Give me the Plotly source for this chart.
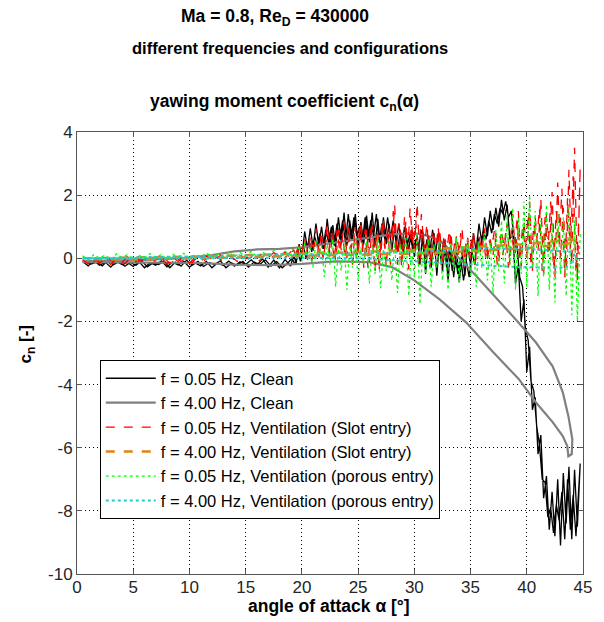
import plotly.graph_objects as go

# ---------------- data ----------------
X_TICKS = [0, 5, 10, 15, 20, 25, 30, 35, 40, 45]
Y_TICKS = [-10, -8, -6, -4, -2, 0, 2, 4]

# angle grid of the slow (0.05 Hz) runs, pitch-up pass
ALPHA_UP = [0.5, 1.0, 1.5, 2.0, 2.5, 3.0, 3.5, 4.0, 4.5, 5.0,
            5.5, 6.0, 6.5, 7.0, 7.5, 8.0, 8.5, 9.0, 9.5, 10.0,
            10.5, 11.0, 11.5, 12.0, 12.5, 13.0, 13.5, 14.0, 14.5, 15.0,
            15.5, 16.0, 16.5, 17.0, 17.5, 18.0, 18.5, 19.0,
            19.25, 19.5, 19.75,
            20.0, 20.25, 20.5, 20.75, 21.0, 21.25, 21.5, 21.75,
            22.0, 22.25, 22.5, 22.75, 23.0, 23.25, 23.5, 23.75,
            24.0, 24.25, 24.5, 24.75, 25.0, 25.25, 25.5, 25.75,
            26.0, 26.25, 26.5, 26.75, 27.0, 27.25, 27.5, 27.75,
            28.0, 28.25, 28.5, 28.75, 29.0, 29.25, 29.5, 29.75,
            30.0, 30.25, 30.5, 30.75, 31.0, 31.25, 31.5, 31.75,
            32.0, 32.25, 32.5, 32.75, 33.0, 33.25, 33.5, 33.75,
            34.0, 34.25, 34.5, 34.75, 35.0, 35.25, 35.5, 35.75,
            36.0, 36.25, 36.5, 36.75, 37.0, 37.25, 37.5, 37.75,
            38.0, 38.25, 38.5, 38.75, 39.0, 39.25, 39.5, 39.75,
            40.0, 40.25, 40.5, 40.75, 41.0, 41.25, 41.5, 41.75,
            42.0, 42.25, 42.5, 42.75, 43.0, 43.25, 43.5, 43.75,
            44.0, 44.25, 44.5, 44.75]

# pitch-down pass
ALPHA_DOWN = [44.625, 44.375, 44.125,
              43.875, 43.625, 43.375, 43.125, 42.875, 42.625, 42.375, 42.125,
              41.875, 41.625, 41.375, 41.125, 40.875, 40.625, 40.375, 40.125,
              39.875, 39.625, 39.375, 39.125, 38.875, 38.625, 38.375, 38.125,
              37.875, 37.625, 37.375, 37.125, 36.875, 36.625, 36.375, 36.125,
              35.875, 35.625, 35.375, 35.125, 34.875, 34.625, 34.375, 34.125,
              33.875, 33.625, 33.375, 33.125, 32.875, 32.625, 32.375, 32.125,
              31.875, 31.625, 31.375, 31.125, 30.875, 30.625, 30.375, 30.125,
              29.875, 29.625, 29.375, 29.125, 28.875, 28.625, 28.375, 28.125,
              27.875, 27.625, 27.375, 27.125, 26.875, 26.625, 26.375, 26.125,
              25.875, 25.625, 25.375, 25.125, 24.875, 24.625, 24.375, 24.125,
              23.875, 23.625, 23.375, 23.125, 22.875, 22.625, 22.375, 22.125,
              21.875, 21.625, 21.375, 21.125, 20.875, 20.625, 20.375, 20.125,
              19.875, 19.625, 19.375, 19.125,
              18.75, 18.25, 17.75, 17.25, 16.75, 16.25, 15.75, 15.25, 14.75, 14.25,
              13.75, 13.25, 12.75, 12.25, 11.75, 11.25, 10.75, 10.25, 9.75, 9.25,
              8.75, 8.25, 7.75, 7.25, 6.75, 6.25, 5.75, 5.25, 4.75, 4.25,
              3.75, 3.25, 2.75, 2.25, 1.75, 1.25, 0.75]

CN_CLEAN_005_UP = [-0.10, -0.24, -0.08, -0.22, -0.12, -0.28, -0.09, -0.20, -0.13, -0.26,
                   -0.10, -0.30, -0.14, -0.22, -0.08, -0.27, -0.12, -0.21, -0.10, -0.28,
                   -0.15, -0.24, -0.10, -0.30, -0.14, -0.23, -0.09, -0.25, -0.11, -0.20,
                   -0.05, -0.22, -0.02, -0.28, -0.06, -0.30, -0.04, -0.25,
                   0.10, -0.15, 0.45,
                   0.05, 0.85, 0.30, 0.95, 0.35, 1.10, 0.40, 1.00,
                   0.30, 1.25, 0.45, 1.05, 0.35, 1.30, 0.50, 1.45,
                   0.40, 1.20, 0.55, 1.40, 0.35, 1.15, 0.45, 1.35,
                   0.50, 1.45, 0.40, 1.25, 0.30, 1.30, 0.45, 1.10,
                   0.25, 0.95, 0.20, 0.85, 0.10, 0.80, 0.25, 0.90,
                   0.05, 0.75, -0.20, 0.85, -0.50, 0.70, -0.30, 0.80,
                   -0.55, 0.60, -0.40, 0.50, -0.70, 0.40, -0.60, 0.30,
                   -0.75, 0.20, -0.55, 0.50, -0.30, 0.80, 0.20, 1.10,
                   0.50, 1.30, 0.70, 1.50, 0.90, 1.60, 1.00, 1.85,
                   1.20, 1.70, 0.60, 0.90, -0.80, -0.20, -2.00, -1.30,
                   -3.60, -2.80, -4.80, -4.40, -6.20, -5.60, -7.60, -6.90,
                   -8.60, -7.40, -8.80, -7.00, -9.10, -6.80, -8.40, -6.60,
                   -8.90, -6.70, -8.50, -6.50]

CN_CLEAN_005_DOWN = [-7.2, -8.8, -7.5,
                     -8.6, -7.0, -8.9, -7.4, -8.3, -7.8, -8.7, -7.9,
                     -8.2, -7.1, -7.0, -5.9, -5.3, -4.2, -3.9, -2.6,
                     -2.2, -0.9, -0.6, 0.4, 0.6, 1.5, 1.3, 1.8,
                     1.4, 1.6, 1.1, 1.4, 0.8, 1.2, 0.6, 0.9,
                     0.3, 0.7, -0.2, 0.2, -0.6, -0.1, -0.7, 0.0,
                     -0.5, 0.1, -0.4, 0.3, -0.3, 0.6, -0.1, 0.8,
                     0.1, 0.9, 0.2, 0.6, 0.1, 0.9, 0.3, 0.6,
                     0.2, 0.8, 0.4, 1.0, 0.3, 1.1, 0.5, 1.2,
                     0.6, 1.3, 0.6, 1.1, 0.5, 1.4, 0.7, 1.2,
                     0.6, 1.3, 0.5, 1.0, 0.7, 1.3, 0.6, 1.4,
                     0.5, 1.2, 0.6, 1.1, 0.4, 1.0, 0.5, 0.9,
                     0.3, 0.8, 0.4, 0.7, 0.2, 0.6, 0.0, 0.4,
                     -0.1, 0.2, -0.2, 0.0,
                     -0.15, -0.30, -0.10, -0.25, -0.05, -0.20, -0.12, -0.28, -0.10, -0.22,
                     -0.15, -0.30, -0.08, -0.20, -0.14, -0.26, -0.10, -0.22, -0.06, -0.25,
                     -0.12, -0.30, -0.10, -0.20, -0.15, -0.27, -0.08, -0.22, -0.13, -0.25,
                     -0.10, -0.20, -0.06, -0.24, -0.12, -0.18, -0.08]

CN_SLOT_005_UP = [-0.05, -0.18, 0.02, -0.15, -0.02, -0.20, 0.00, -0.12, 0.05, -0.16,
                  -0.02, -0.14, 0.04, -0.12, 0.00, -0.18, 0.03, -0.10, 0.06, -0.15,
                  0.02, -0.10, 0.08, -0.08, 0.05, -0.12, 0.10, -0.05, 0.12, -0.02,
                  0.14, 0.00, 0.15, 0.02, 0.18, 0.05, 0.20, 0.00,
                  0.30, 0.00, 0.45,
                  0.10, 0.60, -0.05, 0.80, 0.15, 0.95, 0.00, 0.70,
                  0.20, 1.10, 0.05, 0.85, -0.10, 0.90, 0.25, 1.15,
                  0.00, 0.75, -0.20, 1.00, 0.10, 1.20, -0.30, 0.90,
                  -0.10, 1.05, -0.45, 0.80, 0.00, 1.30, -0.30, 1.00,
                  0.20, 1.70, -0.20, 0.90, 0.10, 1.20, -0.35, 1.10,
                  0.30, 1.75, -0.10, 0.90, 0.00, 0.80, -0.20, 0.70,
                  0.10, 0.95, -0.25, 0.60, 0.05, 0.85, -0.30, 0.75,
                  0.15, 0.90, -0.15, 0.65, 0.00, 0.85, -0.10, 0.70,
                  0.20, 0.95, -0.05, 0.60, 0.10, 0.80, -0.15, 0.90,
                  0.30, 1.10, -0.20, 1.40, 0.10, 1.50, -0.30, 1.20,
                  0.00, 1.80, -0.40, 1.30, 0.20, 1.90, -0.50, 1.40,
                  0.10, 2.10, -0.60, 2.40, 0.00, 1.60, -0.40, 2.80,
                  -0.20, 3.50, -0.70, 2.90]

CN_SLOT_005_DOWN = [1.2, -0.5, 2.6,
                    0.3, 1.9, -0.6, 2.2, 0.4, 1.5, -0.3, 1.8,
                    0.2, 1.3, -0.4, 1.6, 0.5, 1.1, -0.2, 1.4,
                    0.3, 1.0, -0.1, 1.2, 0.2, 0.9, -0.3, 0.8,
                    0.1, 0.7, -0.2, 0.9, 0.3, 0.6, -0.1, 0.8,
                    0.2, 0.5, -0.2, 0.7, 0.1, 0.6, -0.3, 0.8,
                    0.0, 0.6, -0.1, 0.9, 0.2, 0.7, -0.2, 1.0,
                    0.1, 0.8, -0.3, 1.1, 0.3, 1.4, -0.2, 1.2,
                    0.4, 1.6, 0.0, 1.3, -0.3, 1.1, 0.2, 1.5,
                    -0.2, 0.9, 0.3, 1.2, -0.4, 0.8, 0.1, 1.1,
                    -0.3, 0.9, 0.2, 1.0, -0.1, 0.8, 0.3, 1.1,
                    0.0, 0.7, 0.2, 0.9, -0.1, 0.8, 0.2, 0.6,
                    0.0, 0.7, 0.1, 0.5, -0.1, 0.6, 0.1, 0.4,
                    0.0, 0.3, 0.1, 0.25,
                    0.10, -0.05, 0.15, 0.00, 0.12, -0.08, 0.10, -0.02, 0.08, -0.10,
                    0.05, -0.05, 0.10, -0.12, 0.04, -0.08, 0.06, -0.14, 0.02, -0.10,
                    0.05, -0.15, 0.00, -0.12, 0.03, -0.16, -0.02, -0.10, 0.02, -0.18,
                    -0.04, -0.12, 0.00, -0.20, -0.05, -0.15, -0.08]

CN_POROUS_005_UP = [0.08, -0.05, 0.12, 0.00, 0.10, -0.06, 0.14, 0.02, 0.12, -0.04,
                    0.10, 0.00, 0.15, 0.02, 0.12, -0.03, 0.13, 0.03, 0.16, 0.00,
                    0.12, 0.04, 0.18, 0.02, 0.15, 0.05, 0.20, 0.04, 0.18, 0.06,
                    0.22, 0.05, 0.20, 0.08, 0.25, 0.05, 0.22, 0.10,
                    0.30, 0.05, 0.40,
                    -0.10, 0.50, 0.00, 0.35, -0.30, 0.55, 0.10, 0.40,
                    -0.60, 0.45, -0.20, 0.60, -0.90, 0.30, -0.40, 0.50,
                    -1.00, 0.40, -0.30, 0.65, -0.70, 0.35, -0.20, 0.55,
                    -0.80, 0.40, -0.50, 0.70, -0.95, 0.30, -0.40, 0.60,
                    -0.70, 0.50, -1.10, 0.45, -0.30, 0.70, -1.20, 0.40,
                    -0.60, 0.80, -1.45, 0.35, -0.50, 0.60, -0.90, 0.45,
                    -0.30, 0.55, -0.70, 0.30, -1.00, 0.50, -0.40, 0.65,
                    -0.80, 0.40, -0.20, 0.60, -0.60, 0.45, -0.90, 0.55,
                    -0.30, 0.80, -0.70, 0.50, -1.10, 0.90, -0.40, 1.20,
                    -0.80, 1.40, -0.20, 1.60, -1.00, 1.30, -0.50, 1.80,
                    -0.90, 2.00, -0.30, 1.50, -1.20, 1.20, -0.60, 1.70,
                    -1.00, 1.10, -1.40, 1.50, -0.50, 1.30, -1.20, 1.60,
                    -1.80, 1.20, -2.00, 0.80]

# fast (4.00 Hz) runs: closed hysteresis loops
ALPHA_CLEAN_400 = [0.5, 3.0, 6.0, 10.0, 12.0, 14.0, 16.0, 18.0, 20.0, 22.0, 24.0, 26.0,
                   28.0, 30.0, 31.1, 32.2, 34.0, 35.5, 37.3, 39.0, 40.8, 42.3, 43.2,
                   43.7, 44.05, 44.0, 43.7, 43.6, 43.2, 42.3, 40.8, 39.3, 37.0, 34.6,
                   32.25, 30.0, 28.0, 26.0, 23.0, 20.0, 17.0, 14.0, 11.0, 8.0, 5.0, 2.0, 0.5]
CN_CLEAN_400 = [-0.10, -0.08, -0.05, 0.02, 0.10, 0.22, 0.28, 0.30, 0.35, 0.45, 0.55, 0.66,
                0.76, 0.80, 0.72, 0.58, 0.00, -0.56, -1.25, -1.93, -2.66, -3.42, -4.24,
                -5.00, -5.73, -6.20, -6.27, -5.95, -5.63, -5.19, -4.56, -3.83, -2.97, -2.03,
                -1.30, -0.70, -0.28, -0.12, -0.10, -0.18, -0.22, -0.20, -0.15, -0.14, -0.15, -0.14, -0.12]

ALPHA_SLOT_400 = [0.5, 5.0, 10.0, 15.0, 20.0, 25.0, 30.0, 35.0, 40.0, 44.0,
                  44.5, 40.0, 35.0, 30.0, 25.0, 20.0, 15.0, 10.0, 5.0, 0.5]
CN_SLOT_400 = [0.00, 0.02, 0.05, 0.10, 0.14, 0.20, 0.26, 0.35, 0.45, 0.60,
               0.50, 0.32, 0.22, 0.15, 0.12, 0.08, 0.03, 0.00, -0.04, -0.03]

ALPHA_POROUS_400 = [0.5, 10.0, 20.0, 25.0, 30.0, 35.0, 40.0, 44.0,
                    44.5, 43.4, 39.3, 35.0, 30.0, 25.0, 20.0, 15.0, 10.0, 0.5]
CN_POROUS_400 = [0.00, 0.05, 0.10, 0.15, 0.20, 0.30, 0.30, 0.20,
                 0.00, -0.30, -0.28, -0.20, -0.10, 0.00, 0.02, 0.00, 0.00, 0.00]

NAMES = ["f = 0.05 Hz, Clean",
         "f = 4.00 Hz, Clean",
         "f = 0.05 Hz, Ventilation (Slot entry)",
         "f = 4.00 Hz, Ventilation (Slot entry)",
         "f = 0.05 Hz, Ventilation (porous entry)",
         "f = 4.00 Hz, Ventilation (porous entry)"]

for a, b in [(ALPHA_UP, CN_CLEAN_005_UP), (ALPHA_UP, CN_SLOT_005_UP), (ALPHA_UP, CN_POROUS_005_UP),
             (ALPHA_DOWN, CN_CLEAN_005_DOWN), (ALPHA_DOWN, CN_SLOT_005_DOWN),
             (ALPHA_CLEAN_400, CN_CLEAN_400), (ALPHA_SLOT_400, CN_SLOT_400),
             (ALPHA_POROUS_400, CN_POROUS_400)]:
    assert len(a) == len(b), (len(a), len(b))

# ---------------- figure ----------------
FONT = "Liberation Sans, Arial, Helvetica, sans-serif"
fig = go.Figure()
fig.add_trace(go.Scatter(x=ALPHA_UP + ALPHA_DOWN, y=CN_CLEAN_005_UP + CN_CLEAN_005_DOWN,
                         mode="lines", name=NAMES[0], line=dict(color="black", width=1.3)))
fig.add_trace(go.Scatter(x=ALPHA_CLEAN_400, y=CN_CLEAN_400, mode="lines", name=NAMES[1],
                         line=dict(color="#808080", width=2.2)))
fig.add_trace(go.Scatter(x=ALPHA_UP + ALPHA_DOWN, y=CN_SLOT_005_UP + CN_SLOT_005_DOWN,
                         mode="lines", name=NAMES[2],
                         line=dict(color="#ff0000", width=1.3, dash="dash")))
fig.add_trace(go.Scatter(x=ALPHA_SLOT_400, y=CN_SLOT_400, mode="lines", name=NAMES[3],
                         line=dict(color="#d9861a", width=2.5, dash="dash")))
fig.add_trace(go.Scatter(x=ALPHA_UP, y=CN_POROUS_005_UP, mode="lines", name=NAMES[4],
                         line=dict(color="#00ff00", width=1.2, dash="dot")))
fig.add_trace(go.Scatter(x=ALPHA_POROUS_400, y=CN_POROUS_400, mode="lines", name=NAMES[5],
                         line=dict(color="#22cccc", width=2, dash="dot")))

L, R, T, B = 77, 16, 132, 48
W, H = 604, 622
pw, ph = W - L - R, H - T - B

def px_x(p):
    return (p - L) / pw

def px_y(p):
    return (H - B - p) / ph

axis_common = dict(showline=True, linecolor="#555555", linewidth=1, mirror="ticks",
                   ticks="inside", ticklen=5, tickcolor="#555555",
                   showgrid=True, gridcolor="black", gridwidth=1, griddash="1px,3px",
                   zeroline=False, tickfont=dict(family=FONT, size=17, color="#262626"))

fig.update_xaxes(range=[0, 45], tickvals=X_TICKS, ticktext=[str(v) for v in X_TICKS],
                 ticklabelstandoff=-2, **axis_common)
fig.update_yaxes(range=[-10, 4], tickvals=Y_TICKS, ticktext=[str(v) for v in Y_TICKS], **axis_common)

annots = [
    dict(text="<b>Ma = 0.8, Re<sub>D</sub> = 430000</b>", x=px_x(277), y=px_y(17), size=17.5),
    dict(text="<b>different frequencies and configurations</b>", x=px_x(292), y=px_y(48), size=16.5),
    dict(text="<b>yawing moment coefficient c<sub>n</sub>(\u03b1)</b>", x=px_x(287), y=px_y(102), size=17.5),
    dict(text="<b>angle of attack \u03b1 [\u00b0]</b>", x=px_x(331), y=px_y(606), size=17.5),
]
ann = []
for a in annots:
    ann.append(dict(text=a["text"], x=a["x"], y=a["y"], xref="paper", yref="paper",
                    xanchor="center", yanchor="middle", showarrow=False,
                    font=dict(family=FONT, size=a["size"], color="black")))
ann.append(dict(text="<b>c<sub>n</sub> [-]</b>", x=px_x(27), y=px_y(344), xref="paper", yref="paper",
                xanchor="center", yanchor="middle", showarrow=False, textangle=-90,
                font=dict(family=FONT, size=17, color="black")))

fig.update_layout(
    width=W, height=H,
    margin=dict(l=L, r=R, t=T, b=B),
    paper_bgcolor="white", plot_bgcolor="white",
    font=dict(family=FONT, size=16.5, color="black"),
    showlegend=True,
    legend=dict(x=px_x(100), y=px_y(360), xanchor="left", yanchor="top",
                bgcolor="white", bordercolor="black", borderwidth=1,
                font=dict(family=FONT, size=16.5, color="black"),
                tracegroupgap=0, itemwidth=50),
    annotations=ann,
)

fig.write_html("out.html", config={"displayModeBar": False},
               post_script="document.body.style.margin='0';document.body.style.padding='0';")
